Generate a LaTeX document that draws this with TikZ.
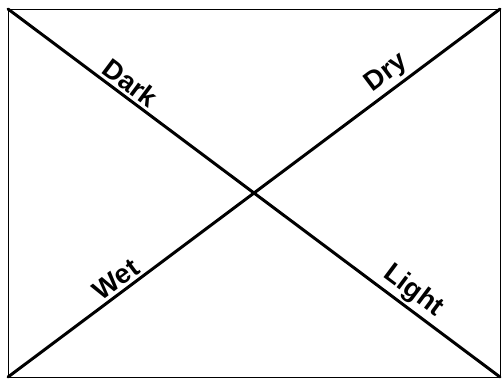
\documentclass[tikz,border=0pt]{standalone}
\usepackage{fontspec}
\setmainfont{Liberation Sans}
\begin{document}
\begin{tikzpicture}[x=0.02cm, y=-0.02cm, line cap=round, line join=round,
    frame/.style={line width=0.5pt},
    axis/.style={line width=1.7pt},
    tag/.style={font=\fontsize{15.5}{18}\selectfont\bfseries, sloped, anchor=south, inner sep=1.5pt}]
  \useasboundingbox (0,0) rectangle (502,380);
  \coordinate (tl) at (8,9);
  \coordinate (tr) at (500,9);
  \coordinate (bl) at (8,377);
  \coordinate (br) at (500,377);
  \draw[frame] (tl) rectangle (br);
  \draw[axis] (tl) -- (br)
    node[tag, pos=0.232] (dark) {Dark}
    node[tag, pos=0.803] (light) {Light};
  \draw[axis] (bl) -- (tr)
    node[tag, pos=0.236] (wet) {Wet}
    node[tag, pos=0.79] (dry) {Dry};
\end{tikzpicture}
\end{document}
